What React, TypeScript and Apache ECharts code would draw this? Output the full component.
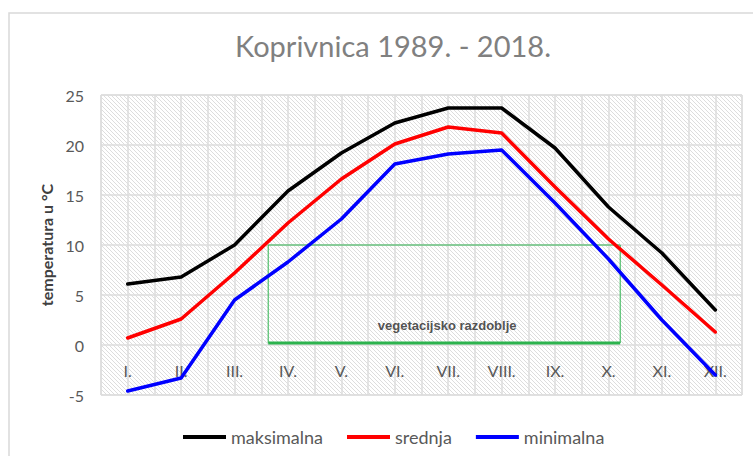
import React, { useEffect, useRef } from "react";
import * as echarts from "echarts";

const months = ["I.", "II.", "III.", "IV.", "V.", "VI.", "VII.", "VIII.", "IX.", "X.", "XI.", "XII."];
const maksimalna = [6.1, 6.8, 10.0, 15.4, 19.2, 22.2, 23.7, 23.7, 19.7, 13.8, 9.2, 3.5];
const srednja = [0.7, 2.6, 7.2, 12.2, 16.6, 20.1, 21.8, 21.2, 15.8, 10.6, 6.0, 1.3];
const minimalna = [-4.6, -3.3, 4.5, 8.3, 12.6, 18.1, 19.1, 19.5, 14.2, 8.6, 2.5, -3.0];
// vegetation period (mean temperature >= 10 °C), in month-axis units (0..12)
const vegStart = 3.13;
const vegEnd = 9.72;
const vegThreshold = 10;
const vegBase = 0.2;
const vegLabel = "vegetacijsko razdoblje";
const vegLabelPos = [6.48, 2.0];

export default function App() {
  const ref = useRef<HTMLDivElement>(null);
  useEffect(() => {
    if (!ref.current) return;
    const chart = echarts.init(ref.current, undefined, { renderer: "svg" });
    const cv = document.createElement("canvas");
    cv.width = 8;
    cv.height = 8;
    const ctx = cv.getContext("2d")!;
    ctx.fillStyle = "#ffffff";
    ctx.fillRect(0, 0, 8, 8);
    ctx.fillStyle = "#dddddd";
    for (let x = 0; x < 8; x++) {
      for (let y = 0; y < 8; y++) {
        if ((x - y + 16) % 4 === 0) ctx.fillRect(x, y, 1, 1);
      }
    }
    const font = "Lato";
    chart.setOption({
      animation: false,
      backgroundColor: "#ffffff",
      title: {
        text: "Koprivnica 1989. - 2018.",
        left: 388,
        textAlign: "center",
        top: 26,
        textStyle: { fontFamily: font, fontSize: 29, fontWeight: "normal", color: "#808080" },
      },
      graphic: [
        {
          type: "rect",
          shape: { x: 9, y: 13, width: 800, height: 500 },
          style: { fill: "none", stroke: "#d9d9d9", lineWidth: 1.5 },
          silent: true,
        },
      ],
      legend: {
        left: 183,
        top: 428,
        padding: 0,
        itemWidth: 43,
        itemHeight: 4,
        itemGap: 24,
        icon: "rect",
        data: ["maksimalna", "srednja", "minimalna"],
        textStyle: { fontFamily: font, fontSize: 18, color: "#595959" },
      },
      grid: {
        left: 101,
        right: 11,
        top: 95,
        bottom: 61,
        show: true,
        borderColor: "#d9d9d9",
        borderWidth: 1,
        backgroundColor: { image: cv, repeat: "repeat" },
      },
      xAxis: [
        {
          type: "category",
          data: months,
          boundaryGap: true,
          axisLine: { onZero: false, show: false },
          axisTick: { show: false },
          axisLabel: { fontFamily: font, fontSize: 16, color: "#595959", margin: -33 },
          splitLine: { show: false },
        },
        {
          type: "value",
          min: 0,
          max: 12,
          interval: 0.5,
          position: "top",
          axisLine: { show: false, onZero: false },
          axisTick: { show: false },
          axisLabel: { show: false },
          splitLine: { show: true, lineStyle: { color: "#dcdcdc", width: 1.5 } },
        },
      ],
      yAxis: {
        type: "value",
        min: -5,
        max: 25,
        interval: 5,
        name: "temperatura u °C",
        nameLocation: "middle",
        nameGap: 46,
        nameTextStyle: { fontFamily: font, fontSize: 16, fontWeight: "bold", color: "#404040" },
        axisLine: { show: false },
        axisTick: { show: false },
        axisLabel: { fontFamily: font, fontSize: 16, color: "#595959", margin: 17 },
        splitLine: { lineStyle: { color: "#dcdcdc", width: 1.5 } },
      },
      series: [
        {
          type: "line",
          xAxisIndex: 1,
          data: [
            [vegStart, vegBase],
            [vegStart, vegThreshold],
            [vegEnd, vegThreshold],
            [vegEnd, vegBase],
          ],
          symbol: "none",
          lineStyle: { color: "#2db34e", width: 1 },
          silent: true,
          z: 1,
        },
        {
          type: "line",
          xAxisIndex: 1,
          data: [
            [vegStart, vegBase],
            [vegEnd, vegBase],
          ],
          symbol: "none",
          lineStyle: { color: "#2db34e", width: 3 },
          silent: true,
          z: 1,
        },
        {
          type: "scatter",
          xAxisIndex: 1,
          data: [vegLabelPos],
          symbolSize: 0,
          label: {
            show: true,
            position: "inside",
            formatter: vegLabel,
            fontFamily: "Liberation Sans",
            fontSize: 13,
            fontWeight: "bold",
            color: "#262626",
          },
          silent: true,
        },
        {
          name: "maksimalna",
          type: "line",
          data: maksimalna,
          symbol: "none",
          color: "#000000",
          lineStyle: { color: "#000000", width: 3.5, cap: "round", join: "round" },
          z: 3,
        },
        {
          name: "srednja",
          type: "line",
          data: srednja,
          symbol: "none",
          color: "#ff0000",
          lineStyle: { color: "#ff0000", width: 3.5, cap: "round", join: "round" },
          z: 3,
        },
        {
          name: "minimalna",
          type: "line",
          data: minimalna,
          symbol: "none",
          color: "#0000ff",
          lineStyle: { color: "#0000ff", width: 3.5, cap: "round", join: "round" },
          z: 3,
        },
      ],
    });
    return () => chart.dispose();
  }, []);
  return <div ref={ref} style={{ width: 753, height: 456, position: "absolute", left: 0, top: 0 }} />;
}
